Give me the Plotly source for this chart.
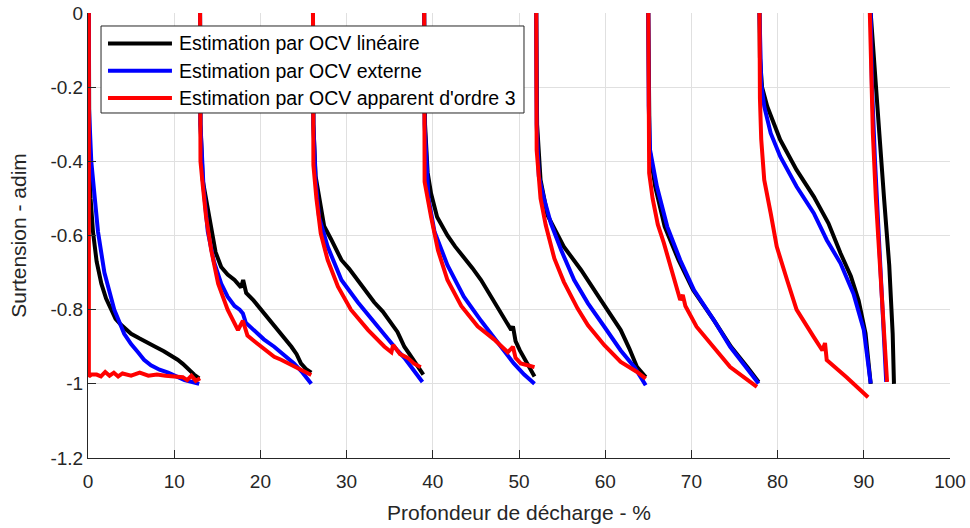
import plotly.graph_objects as go

# values, one segment per discharge pulse, None = break
black_x = [0.1, 0.1, 0.15, 0.3, 0.58, 1.0, 1.55, 2.1, 2.7, 3.2, 3.8, 5.0, 6.0, 6.9, 7.8, 8.8, 9.6, 10.4, 11.0, 11.6, 12.3, 12.9, None,
           13.0, 13.05, 13.3, 13.7, 14.3, 14.8, 15.45, 16.2, 17.0, 17.75, 18.0, 18.35, 19.2, 20.1, 21.0, 22.0, 22.8, 23.6, 24.2, 24.7, 25.3, 25.9, None,
           26.1, 26.15, 26.4, 26.8, 27.4, 28.2, 29.4, 30.3, 31.3, 32.2, 33.2, 34.2, 35.2, 35.9, 36.3, 36.7, 37.3, 37.9, 38.6, 38.9, None,
           39.0, 39.1, 39.4, 39.8, 40.5, 41.7, 42.6, 43.6, 44.6, 45.6, 46.5, 47.5, 48.3, 49.1, 49.3, 49.6, 50.1, 50.6, 51.2, 51.8, None,
           52.0, 52.1, 52.5, 53.3, 55.2, 57.2, 59.5, 61.8, 62.8, 63.7, 64.7, None,
           65.0, 65.05, 65.15, 65.8, 66.9, 68.5, 70.2, 72.6, 74.6, 76.5, 77.8, None,
           77.9, 77.95, 78.2, 78.8, 80.3, 82.2, 84.2, 85.9, 87.3, 88.5, 89.4, 90.2, 90.8, None,
           90.8, 91.2, 91.8, 92.35, 92.95, 93.35, 93.5]
black_y = [0, -0.2, -0.37, -0.5, -0.59, -0.67, -0.73, -0.77, -0.8, -0.825, -0.84, -0.865, -0.878, -0.89, -0.9, -0.912, -0.922, -0.935, -0.946, -0.96, -0.975, -0.985, None,
           0, -0.3, -0.45, -0.5, -0.59, -0.645, -0.685, -0.705, -0.72, -0.74, -0.72, -0.755, -0.775, -0.8, -0.825, -0.855, -0.875, -0.9, -0.92, -0.945, -0.96, -0.97, None,
           0, -0.3, -0.44, -0.5, -0.575, -0.61, -0.666, -0.69, -0.72, -0.748, -0.78, -0.805, -0.836, -0.86, -0.88, -0.9, -0.92, -0.94, -0.965, -0.975, None,
           0, -0.3, -0.43, -0.487, -0.55, -0.6, -0.63, -0.657, -0.688, -0.72, -0.755, -0.79, -0.82, -0.855, -0.845, -0.885, -0.91, -0.93, -0.955, -0.98, None,
           0, -0.3, -0.45, -0.545, -0.63, -0.693, -0.774, -0.855, -0.905, -0.955, -0.982, None,
           0, -0.25, -0.369, -0.468, -0.576, -0.666, -0.747, -0.828, -0.9, -0.955, -0.995, None,
           0, -0.12, -0.2, -0.252, -0.342, -0.423, -0.495, -0.567, -0.648, -0.71, -0.775, -0.864, -1.0, None,
           0, -0.144, -0.324, -0.5, -0.68, -0.865, -1.0]

blue_x = [0.1, 0.1, 0.38, 0.77, 1.16, 1.9, 3.05, 4.2, 5.0, 5.8, 6.5, 7.3, 8.3, 9.3, 10.2, 11.2, 12.1, 12.9, None,
          13.0, 13.05, 13.4, 13.9, 14.6, 15.45, 16.2, 17.0, 17.6, 17.97, 18.3, 19.3, 20.4, 21.6, 22.7, 23.9, 24.9, 25.9, None,
          26.1, 26.15, 26.4, 26.8, 27.8, 29.4, 31.3, 33.6, 34.8, 35.9, 36.7, 37.5, 38.2, 38.8, None,
          39.0, 39.05, 39.5, 40.2, 41.7, 43.6, 45.6, 47.9, 48.7, 49.4, 50.6, 51.8, None,
          52.0, 52.05, 52.3, 52.9, 53.7, 54.9, 56.4, 58.0, 59.9, 61.8, 63.4, 64.7, None,
          65.0, 65.05, 65.2, 66.0, 67.2, 68.7, 70.3, 72.6, 74.5, 76.4, 77.8, None,
          77.9, 77.95, 78.1, 78.45, 79.2, 80.3, 82.2, 84.2, 85.7, 87.3, 88.8, 90.0, 90.8, None,
          90.8, 90.95, 91.3, 91.75, 92.15, 92.5, 92.6]
blue_y = [0, -0.25, -0.4, -0.5, -0.59, -0.7, -0.8, -0.865, -0.893, -0.915, -0.935, -0.95, -0.962, -0.97, -0.98, -0.99, -0.995, -1.0, None,
          0, -0.3, -0.47, -0.59, -0.67, -0.73, -0.765, -0.79, -0.8, -0.81, -0.835, -0.855, -0.88, -0.9, -0.92, -0.945, -0.97, -1.0, None,
          0, -0.3, -0.45, -0.55, -0.63, -0.72, -0.78, -0.847, -0.88, -0.91, -0.93, -0.955, -0.975, -0.995, None,
          0, -0.3, -0.5, -0.59, -0.68, -0.765, -0.83, -0.9, -0.925, -0.945, -0.975, -1.0, None,
          0, -0.3, -0.44, -0.5, -0.567, -0.64, -0.72, -0.783, -0.846, -0.91, -0.955, -1.004, None,
          0, -0.25, -0.369, -0.468, -0.576, -0.666, -0.747, -0.828, -0.9, -0.955, -0.999, None,
          0, -0.1, -0.19, -0.252, -0.324, -0.387, -0.468, -0.54, -0.612, -0.675, -0.757, -0.855, -0.999, None,
          0, -0.2, -0.4, -0.6, -0.8, -0.95, -0.995]

red_x = [0.1, 0.1, 0.4, 1.0, 1.5, 2.0, 2.5, 3.0, 3.5, 4.0, 5.0, 6.0, 7.0, 8.0, 9.0, 10.0, 11.0, 11.5, 12.0, 12.5, 13.0, None,
         13.0, 13.05, 13.33, 13.7, 14.3, 15.1, 16.2, 17.4, 17.97, 18.5, 19.3, 20.1, 20.8, 21.6, 22.4, 23.2, 24.0, 24.7, 25.3, 25.9, None,
         26.1, 26.15, 26.5, 27.0, 27.8, 29.0, 30.5, 32.5, 34.4, 35.2, 35.4, 36.2, 37.1, 37.8, 38.6, None,
         39.0, 39.05, 39.8, 40.6, 41.7, 43.3, 45.2, 47.1, 48.7, 49.3, 49.6, 50.2, 51.0, 51.8, None,
         52.0, 52.05, 52.5, 53.1, 54.1, 55.2, 56.8, 58.0, 59.9, 61.8, 63.7, 64.7, None,
         65.0, 65.05, 65.1, 65.5, 66.1, 66.8, 67.6, 68.7, 69.0, 69.3, 70.6, 72.5, 74.5, 77.6, None,
         77.9, 77.95, 78.1, 78.45, 79.2, 79.9, 81.1, 82.2, 84.2, 85.2, 85.5, 85.7, 88.0, 90.5, None,
         90.7, 90.85, 91.05, 91.4, 91.9, 92.3, 92.7]
red_y = [0, -0.98, -0.975, -0.975, -0.98, -0.968, -0.978, -0.97, -0.98, -0.972, -0.978, -0.97, -0.978, -0.975, -0.978, -0.98, -0.982, -0.99, -0.978, -0.992, -0.985, None,
         0, -0.4, -0.468, -0.55, -0.64, -0.73, -0.8, -0.855, -0.83, -0.87, -0.885, -0.9, -0.915, -0.927, -0.935, -0.945, -0.955, -0.963, -0.97, -0.976, None,
         0, -0.41, -0.5, -0.594, -0.666, -0.738, -0.8, -0.855, -0.9, -0.915, -0.895, -0.92, -0.93, -0.945, -0.955, None,
         0, -0.455, -0.55, -0.64, -0.72, -0.79, -0.845, -0.88, -0.915, -0.9, -0.93, -0.945, -0.95, -0.955, None,
         0, -0.37, -0.5, -0.572, -0.662, -0.725, -0.797, -0.842, -0.896, -0.941, -0.968, -0.986, None,
         0, -0.325, -0.432, -0.5, -0.57, -0.62, -0.684, -0.774, -0.76, -0.79, -0.846, -0.9, -0.955, -1.008, None,
         0, -0.23, -0.34, -0.45, -0.54, -0.63, -0.72, -0.8, -0.874, -0.91, -0.89, -0.936, -0.982, -1.036, None,
         0, -0.144, -0.324, -0.5, -0.68, -0.815, -0.995]

series_names = ["Estimation par OCV linéaire", "Estimation par OCV externe", "Estimation par OCV apparent d'ordre 3"]
series_colors = ["#000000", "#0000FF", "#FF0000"]

x_ticks = [0, 10, 20, 30, 40, 50, 60, 70, 80, 90, 100]
y_ticks = [0, -0.2, -0.4, -0.6, -0.8, -1, -1.2]
y_tick_text = ["0", "-0.2", "-0.4", "-0.6", "-0.8", "-1", "-1.2"]

AXIS_COLOR = "#262626"
FONT = "Liberation Sans, Arial, sans-serif"

fig = go.Figure()
for xs, ys, name, color in zip([black_x, blue_x, red_x], [black_y, blue_y, red_y], series_names, series_colors):
    fig.add_trace(go.Scatter(x=xs, y=ys, name=name, mode="lines",
                             line=dict(color=color, width=4), showlegend=False))

fig.update_layout(
    width=970, height=528,
    margin=dict(l=88, r=20, t=13, b=70),
    plot_bgcolor="white", paper_bgcolor="white",
    font=dict(family=FONT, size=19, color=AXIS_COLOR),
    xaxis=dict(range=[0, 100], tickvals=x_ticks, showline=True, linecolor=AXIS_COLOR, linewidth=1,
               ticks="inside", ticklen=8, tickcolor=AXIS_COLOR, showgrid=True, gridcolor="#e0e0e0",
               zeroline=False, automargin=False, ticklabelstandoff=6,
               title=dict(text="Profondeur de décharge - %", font=dict(size=21), standoff=14)),
    yaxis=dict(range=[-1.2, 0], tickvals=y_ticks, ticktext=y_tick_text, showline=True, linecolor=AXIS_COLOR,
               linewidth=1, ticks="inside", ticklen=8, tickcolor=AXIS_COLOR, showgrid=True, gridcolor="#e0e0e0",
               zeroline=False, automargin=False,
               title=dict(text="Surtension - adim", font=dict(size=21), standoff=18)),
)

# legend box drawn by hand, MATLAB style
fig.add_shape(type="rect", xref="paper", yref="paper", x0=0.0151, x1=0.5058, y0=0.7753, y1=0.9708,
              line=dict(color=AXIS_COLOR, width=1), fillcolor="white", layer="above")
for i, (name, color) in enumerate(zip(series_names, series_colors)):
    yy = 0.9315 - i * 0.0613
    fig.add_shape(type="line", xref="paper", yref="paper", x0=0.0232, x1=0.0974, y0=yy, y1=yy,
                  line=dict(color=color, width=4), layer="above")
    fig.add_annotation(x=0.1032, y=yy, xref="paper", yref="paper", text=name, showarrow=False,
                       xanchor="left", yanchor="middle", font=dict(size=19.5, color="#000000"))

# drop the default 8px page margin so the figure sits at the window corner
fig.write_html("out.html", config={"displayModeBar": False},
               post_script="document.body.style.margin = '0';")
